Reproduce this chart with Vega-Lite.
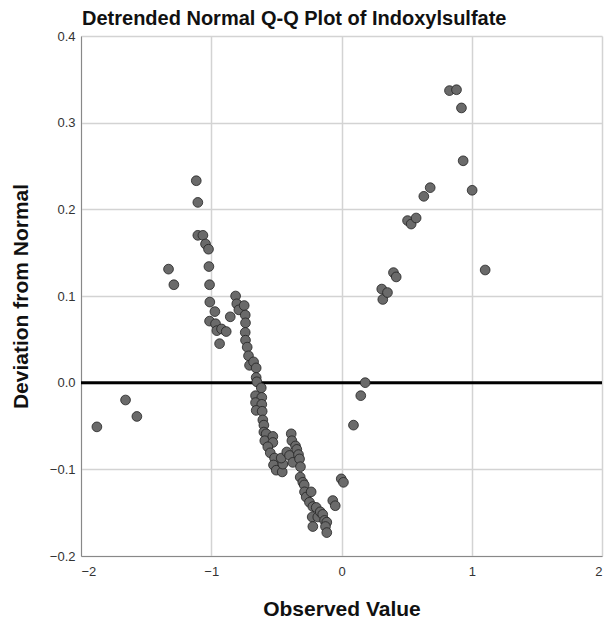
{
  "$schema": "https://vega.github.io/schema/vega-lite/v6.json",
  "autosize": {"type": "none"},
  "padding": {"left": 81, "top": 36, "right": 5, "bottom": 67},
  "width": 521,
  "height": 520,
  "title": {"text": "Detrended Normal Q-Q Plot of Indoxylsulfate", "anchor": "start", "frame": "group", "font": "Liberation Sans", "fontSize": 20, "fontWeight": "bold", "color": "#111", "offset": 1, "dx": 1},
  "config": {
    "view": {"stroke": null},
    "axis": {"labelFont": "Liberation Sans", "labelFontSize": 13, "labelColor": "#333", "titleFont": "Liberation Sans", "titleFontSize": 21, "titleFontWeight": "bold", "titleColor": "#111", "gridColor": "#d3d3d3", "gridWidth": 1.5, "domainColor": "#888", "ticks": false}
  },
  "data": {"values": [
    {"x": -1.878, "y": -0.051}, {"x": -1.658, "y": -0.020}, {"x": -1.571, "y": -0.039},
    {"x": -1.328, "y": 0.131}, {"x": -1.287, "y": 0.113}, {"x": -1.115, "y": 0.233},
    {"x": -1.103, "y": 0.208}, {"x": -1.103, "y": 0.170}, {"x": -1.064, "y": 0.170},
    {"x": -1.044, "y": 0.160}, {"x": -1.021, "y": 0.154}, {"x": -1.018, "y": 0.134},
    {"x": -1.013, "y": 0.113}, {"x": -1.011, "y": 0.093}, {"x": -0.972, "y": 0.082},
    {"x": -1.013, "y": 0.071}, {"x": -0.967, "y": 0.068}, {"x": -0.957, "y": 0.060},
    {"x": -0.936, "y": 0.045}, {"x": -0.921, "y": 0.062}, {"x": -0.885, "y": 0.059},
    {"x": -0.854, "y": 0.076}, {"x": -0.813, "y": 0.100}, {"x": -0.804, "y": 0.091},
    {"x": -0.788, "y": 0.084}, {"x": -0.747, "y": 0.089}, {"x": -0.739, "y": 0.078},
    {"x": -0.737, "y": 0.069}, {"x": -0.739, "y": 0.058}, {"x": -0.737, "y": 0.049},
    {"x": -0.724, "y": 0.041}, {"x": -0.714, "y": 0.031}, {"x": -0.706, "y": 0.020},
    {"x": -0.675, "y": 0.024}, {"x": -0.655, "y": 0.017}, {"x": -0.655, "y": 0.006},
    {"x": -0.650, "y": 0.001}, {"x": -0.616, "y": -0.006}, {"x": -0.660, "y": -0.015},
    {"x": -0.612, "y": -0.017}, {"x": -0.660, "y": -0.023}, {"x": -0.612, "y": -0.025},
    {"x": -0.655, "y": -0.032}, {"x": -0.609, "y": -0.033}, {"x": -0.604, "y": -0.043},
    {"x": -0.596, "y": -0.049}, {"x": -0.596, "y": -0.057}, {"x": -0.578, "y": -0.059},
    {"x": -0.589, "y": -0.067}, {"x": -0.527, "y": -0.062}, {"x": -0.527, "y": -0.069},
    {"x": -0.566, "y": -0.074}, {"x": -0.547, "y": -0.081}, {"x": -0.514, "y": -0.087},
    {"x": -0.522, "y": -0.095}, {"x": -0.501, "y": -0.101}, {"x": -0.455, "y": -0.103},
    {"x": -0.450, "y": -0.094}, {"x": -0.463, "y": -0.087}, {"x": -0.420, "y": -0.080},
    {"x": -0.386, "y": -0.059}, {"x": -0.381, "y": -0.067}, {"x": -0.399, "y": -0.084},
    {"x": -0.374, "y": -0.092}, {"x": -0.353, "y": -0.073}, {"x": -0.343, "y": -0.077},
    {"x": -0.330, "y": -0.083}, {"x": -0.322, "y": -0.088}, {"x": -0.315, "y": -0.097},
    {"x": -0.317, "y": -0.109}, {"x": -0.297, "y": -0.115}, {"x": -0.286, "y": -0.118},
    {"x": -0.284, "y": -0.126}, {"x": -0.271, "y": -0.132}, {"x": -0.233, "y": -0.126},
    {"x": -0.246, "y": -0.138}, {"x": -0.220, "y": -0.143}, {"x": -0.194, "y": -0.144},
    {"x": -0.225, "y": -0.155}, {"x": -0.220, "y": -0.166}, {"x": -0.182, "y": -0.155},
    {"x": -0.163, "y": -0.149}, {"x": -0.144, "y": -0.152}, {"x": -0.130, "y": -0.159},
    {"x": -0.113, "y": -0.161}, {"x": -0.123, "y": -0.166}, {"x": -0.113, "y": -0.173},
    {"x": -0.067, "y": -0.136}, {"x": -0.048, "y": -0.142}, {"x": -0.002, "y": -0.111},
    {"x": 0.015, "y": -0.115}, {"x": 0.092, "y": -0.049}, {"x": 0.148, "y": -0.015},
    {"x": 0.182, "y": 0.000}, {"x": 0.317, "y": 0.096}, {"x": 0.309, "y": 0.108},
    {"x": 0.353, "y": 0.104}, {"x": 0.399, "y": 0.127}, {"x": 0.420, "y": 0.122},
    {"x": 0.507, "y": 0.187}, {"x": 0.535, "y": 0.183}, {"x": 0.573, "y": 0.190},
    {"x": 0.632, "y": 0.215}, {"x": 0.681, "y": 0.225}, {"x": 0.829, "y": 0.337},
    {"x": 0.883, "y": 0.338}, {"x": 0.921, "y": 0.317}, {"x": 0.934, "y": 0.256},
    {"x": 1.003, "y": 0.222}, {"x": 1.103, "y": 0.130}
  ]},
  "layer": [
    {
      "mark": {"type": "rule", "color": "#000", "strokeWidth": 3},
      "data": {"values": [{"ref": 0}]},
      "encoding": {"y": {"field": "ref", "type": "quantitative"}}
    },
    {
      "mark": {"type": "point", "filled": true, "fill": "#6a6a6a", "stroke": "#222", "strokeWidth": 0.8, "opacity": 1, "size": 95},
      "encoding": {
        "x": {"field": "x", "type": "quantitative", "scale": {"domain": [-2, 2], "nice": false, "zero": false}, "axis": {"values": [-2, -1, 0, 1, 2], "title": "Observed Value", "titlePadding": 20, "labelPadding": 9, "format": "d"}},
        "y": {"field": "y", "type": "quantitative", "scale": {"domain": [-0.2, 0.4], "nice": false}, "axis": {"values": [-0.2, -0.1, 0, 0.1, 0.2, 0.3, 0.4], "format": ".1f", "title": "Deviation from Normal", "titlePadding": 18, "labelPadding": 6}}
      }
    }
  ]
}
